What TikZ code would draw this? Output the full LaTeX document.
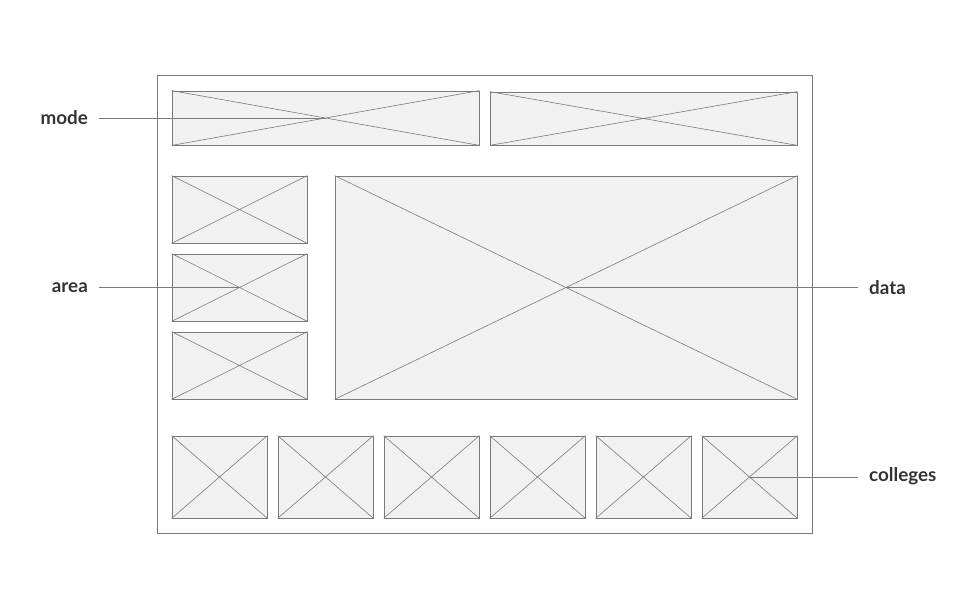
\documentclass[tikz,border=0pt]{standalone}
\usepackage{fontspec}
\setmainfont{Lato}
\usetikzlibrary{positioning}
\definecolor{wire}{HTML}{7A7A7A}
\definecolor{pane}{HTML}{F1F1F1}
\definecolor{ink}{HTML}{333333}

\begin{document}
\begin{tikzpicture}[
  x=1pt, y=-1pt,
  frame/.style={draw=wire, line width=0.8pt},
  xb/.style={draw=wire, fill=pane, line width=0.8pt, inner sep=0pt},
  xl/.style={draw=wire, line width=0.6pt},
  lead/.style={draw=wire, line width=0.8pt},
  lbl/.style={font=\fontsize{18.8}{20}\selectfont\bfseries, text=ink, inner ysep=0pt, inner xsep=11pt},
]
% ---- crossed placeholder box: #1 id #2 x1 #3 y1 #4 x2 #5 y2 ----
\newcommand{\xbox}[5]{%
  \pgfmathsetmacro{\cx}{(#2+#4)/2}\pgfmathsetmacro{\cy}{(#3+#5)/2}%
  \pgfmathsetmacro{\bw}{#4-#2}\pgfmathsetmacro{\bh}{#5-#3}%
  \node[xb, minimum width=\bw pt, minimum height=\bh pt] (#1) at (\cx,\cy) {};%
  \draw[xl] (#1.north west) -- (#1.south east) (#1.south west) -- (#1.north east);%
}
\useasboundingbox (0,0) rectangle (970,609);

% ======================= page frame =======================
\draw[frame] (157,75) rectangle (812,533);

% top bar
\xbox{mode1}{172}{91}{479}{145}
\xbox{mode2}{490}{92}{797}{145}

% left column
\xbox{area1}{172}{176}{307}{243}
\xbox{area2}{172}{254}{307}{321}
\xbox{area3}{172}{332}{307}{399}

% main view
\xbox{data}{335}{176}{797}{399}

% bottom row
\foreach \i in {1,...,6}{
  \pgfmathsetmacro{\xa}{172+(\i-1)*106}
  \xbox{coll\i}{\xa}{436}{\xa+95}{518}
}

% ======================= labels =======================
\node[lbl, anchor=east] (modelbl) at (99,118) {mode};
\node[lbl, anchor=east] (arealbl) at (99,288) {area};
\node[lbl, anchor=west] (datalbl) at (858,288) {data};
\node[lbl, anchor=west] (colllbl) at (858,476) {colleges};

\draw[lead] (mode1.center -| modelbl.east) -- (mode1.center);
\draw[lead] (area2.center -| arealbl.east) -- (area2.center);
\draw[lead] (data.center) -- (data.center -| datalbl.west);
\draw[lead] (coll6.center) -- (coll6.center -| colllbl.west);
\end{tikzpicture}
\end{document}
